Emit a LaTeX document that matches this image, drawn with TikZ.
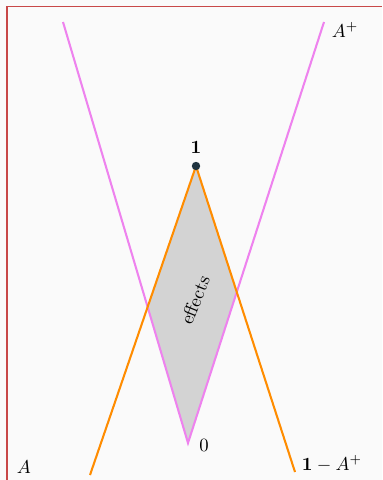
\documentclass[tikz,border=0pt]{standalone}
\usetikzlibrary{
    positioning
}
\definecolor{bgcol}{HTML}{FAFAFA}
\definecolor{framecol}{HTML}{C84848}
\definecolor{pinkcol}{HTML}{EE82EE}
\definecolor{orangecol}{HTML}{FF8C00}
\definecolor{fillcol}{HTML}{D3D3D3}
\definecolor{dotcol}{HTML}{1F3340}

\begin{document}
\begin{tikzpicture}[
      x=0.0188cm, y=-0.0188cm,
      pinkline/.style={draw=pinkcol, line width=1.1pt},
      orangeline/.style={draw=orangecol, line width=1.1pt},
      pt/.style={circle, fill=dotcol, inner sep=0pt, minimum size=4.5pt},
      lbl/.style={inner sep=1pt}]
    \useasboundingbox (0,0) rectangle (382,480);
    \fill[bgcol] (0,0) rectangle (382,480);
    \draw[framecol, line width=0.6pt] (7,480) -- (7,6.5) -- (382,6.5);
    % end points
    \coordinate (zero) at (188,443);
    \coordinate (one) at (196,166);
    \coordinate (a) at (63,22);
    \coordinate (aplus) at (324,22);
    \coordinate (ahat) at (90,475);
    \coordinate (oneminus) at (295,472);
    \coordinate (left) at (intersection of zero--a and one--ahat);
    \coordinate (right) at (intersection of zero--aplus and one--oneminus);
    % effects region
    \fill[fillcol] (one) -- (right) -- (zero) -- (left) -- cycle;
    \draw[pinkline] (a) -- (zero) -- (aplus);
    \draw[orangeline] (ahat) -- (one) -- (oneminus);
    \node[pt] (unit) at (one) {};
    \node[lbl, above=3pt of unit] (unitlbl) {$\mathbf{1}$};
    \node[lbl] (zerolbl) at (204,445) {$0$};
    \node[lbl] (albl) at (24,467) {$A$};
    \node[lbl] (apluslbl) at (345,30) {$A^+$};
    \node[lbl] (complbl) at (332,464) {$\mathbf{1}-A^+$};
    \node[lbl, rotate=68] (effects) at (195,300) {effects};
  \end{tikzpicture}
\end{document}
